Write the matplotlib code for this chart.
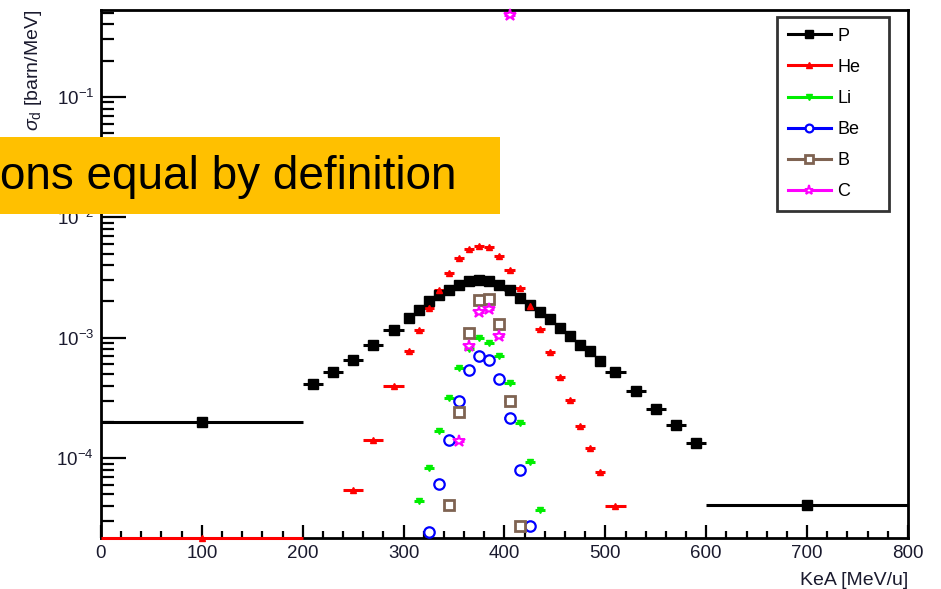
import numpy as np
import matplotlib
matplotlib.use('Agg')
import matplotlib.pyplot as plt
from matplotlib.lines import Line2D
from matplotlib.patches import Rectangle
from matplotlib.ticker import LogLocator, MultipleLocator, NullFormatter

# bin edges in KeA [MeV/u] (20 MeV bins in the wings, 10 MeV around the peak)
bin_edges = [0, 200, 220, 240, 260, 280, 300, 310, 320, 330, 340, 350, 360, 370,
             380, 390, 400, 410, 420, 430, 440, 450, 460, 470, 480, 490, 500,
             520, 540, 560, 580, 600, 800]

# values per bin, None = no point drawn
# bins:  100     210      230      250      270      290      305      315      325      335
#        345     355      365      375      385      395      405      415      425      435
#        445     455      465      475      485      495      510      530      550      570
#        590     700
p_vals = [1.98e-4, 4.15e-4, 5.15e-4, 6.56e-4, 8.63e-4, 1.16e-3, 1.46e-3, 1.71e-3, 2.00e-3, 2.27e-3,
          2.50e-3, 2.72e-3, 2.93e-3, 2.99e-3, 2.93e-3, 2.75e-3, 2.50e-3, 2.15e-3, 1.88e-3, 1.65e-3,
          1.44e-3, 1.21e-3, 1.04e-3, 8.75e-4, 7.70e-4, 6.36e-4, 5.15e-4, 3.58e-4, 2.56e-4, 1.87e-4,
          1.34e-4, 4.10e-5]
he_vals = [2.17e-5, None, None, 5.4e-5, 1.41e-4, 4.0e-4, 7.7e-4, 1.16e-3, 1.76e-3, 2.50e-3,
           3.44e-3, 4.58e-3, 5.44e-3, 5.80e-3, 5.66e-3, 4.79e-3, 3.67e-3, 2.58e-3, 1.85e-3, 1.18e-3,
           7.55e-4, 4.72e-4, 3.06e-4, 1.84e-4, 1.22e-4, 7.63e-5, 3.98e-5, None, None, None,
           None, None]
li_vals = [None, None, None, None, None, None, None, 4.4e-5, 8.3e-5, 1.69e-4,
           3.16e-4, 5.6e-4, 8.0e-4, 9.9e-4, 9.1e-4, 7.0e-4, 4.2e-4, 1.96e-4, 9.3e-5, 3.74e-5,
           None, None, None, None, None, None, None, None, None, None,
           None, None]
be_vals = [None, None, None, None, None, None, None, None, 2.42e-5, 6.1e-5,
           1.41e-4, 2.96e-4, 5.36e-4, 7.0e-4, 6.48e-4, 4.54e-4, 2.15e-4, 7.9e-5, 2.72e-5, None,
           None, None, None, None, None, None, None, None, None, None,
           None, None]
b_vals = [None, None, None, None, None, None, None, None, None, None,
          4.06e-5, 2.4e-4, 1.09e-3, 2.07e-3, 2.11e-3, 1.31e-3, 3.0e-4, 2.72e-5, None, None,
          None, None, None, None, None, None, None, None, None, None,
          None, None]
c_vals = [None, None, None, None, None, None, None, None, None, None,
          None, 1.38e-4, 8.5e-4, 1.65e-3, 1.73e-3, 1.03e-3, 0.479, None, None, None,
          None, None, None, None, None, None, None, None, None, None,
          None, None]

series_names = ['P', 'He', 'Li', 'Be', 'B', 'C']

plt.rcParams['font.family'] = ['Liberation Sans', 'DejaVu Sans']
plt.rcParams['mathtext.fontset'] = 'custom'
plt.rcParams['mathtext.rm'] = 'Liberation Sans'
plt.rcParams['mathtext.it'] = 'Liberation Sans:italic'
plt.rcParams['mathtext.bf'] = 'Liberation Sans:bold'

edges = np.array(bin_edges, dtype=float)
centers = (edges[:-1] + edges[1:]) / 2
half = (edges[1:] - edges[:-1]) / 2

styles = [
    dict(color='black', marker='s', ms=7.5, mfc='black', mew=1),
    dict(color='#ff0000', marker='^', ms=5, mfc='#ff0000', mew=1),
    dict(color='#00ee00', marker='v', ms=5, mfc='#00ee00', mew=1),
    dict(color='#0000ff', marker='o', ms=7.5, mfc='white', mew=1.6),
    dict(color='#7f6352', marker='s', ms=7.5, mfc='white', mew=2),
    dict(color='#ff00ff', marker='*', ms=9, mfc='white', mew=1.4),
]

fig = plt.figure(figsize=(9.41, 5.89), dpi=100)
ax = fig.add_axes([0.1073, 0.0866, 0.8576, 0.8964])

handles = []
for name, vals, st in zip(series_names, [p_vals, he_vals, li_vals, be_vals, b_vals, c_vals], styles):
    y = np.array(vals, dtype=float)
    m = ~np.isnan(y)
    ax.errorbar(centers[m], y[m], xerr=half[m], fmt=st['marker'], color=st['color'],
                ms=st['ms'], mfc=st['mfc'], mew=st['mew'], elinewidth=2.2, capsize=0,
                clip_on=False, zorder=3)
    handles.append(Line2D([], [], color=st['color'], lw=2.2, marker=st['marker'],
                          ms=st['ms'] * 0.75, mfc=st['mfc'], mew=st['mew'], label=name))

ax.set_yscale('log')
ax.set_xlim(0, 800)
ax.set_ylim(2.17e-5, 0.527)

ax.xaxis.set_major_locator(MultipleLocator(100))
ax.xaxis.set_minor_locator(MultipleLocator(20))
ax.yaxis.set_major_locator(LogLocator(base=10, numticks=10))
ax.yaxis.set_minor_locator(LogLocator(base=10, subs=np.arange(2, 10), numticks=20))
ax.yaxis.set_minor_formatter(NullFormatter())

ax.tick_params(axis='both', which='both', direction='in', top=False, right=False,
               width=1.6, colors='black', labelsize=13.5, labelcolor='#1a1a2e')
ax.tick_params(axis='x', which='major', length=9.5, pad=5)
ax.tick_params(axis='x', which='minor', length=5)
ax.tick_params(axis='y', which='major', length=18, pad=5)
ax.tick_params(axis='y', which='minor', length=9.5)
for sp in ax.spines.values():
    sp.set_linewidth(2)

ax.set_xlabel('KeA [MeV/u]', fontsize=14, loc='right', labelpad=7, color='#1a1a2e')
ax.set_ylabel(r'$\sigma_{\mathrm{d}}$ [barn/MeV]', fontsize=14, color='#1a1a2e', ha='right')
ax.yaxis.set_label_coords(-0.071, 1.0)

leg = ax.legend(handles=handles, loc='upper left', bbox_to_anchor=(0.8377, 0.6215, 0.1388, 0.3655),
                mode='expand', borderaxespad=0, fontsize=13, frameon=True, fancybox=False,
                handlelength=2.4, handletextpad=0.35, labelspacing=0.78,
                borderpad=0.6, edgecolor='black')
leg.get_frame().set_linewidth(2)

# orange callout box laid over the plot
fig.patches.append(Rectangle((0, (589 - 214) / 589), 500 / 941, 77 / 589,
                             transform=fig.transFigure, facecolor='#ffc000',
                             edgecolor='none', zorder=10))
fig.text(0.0, (589 - 177) / 589, 'ons equal by definition', fontsize=33,
         ha='left', va='center', color='black', zorder=11)

fig.savefig('out.png', dpi=100)
